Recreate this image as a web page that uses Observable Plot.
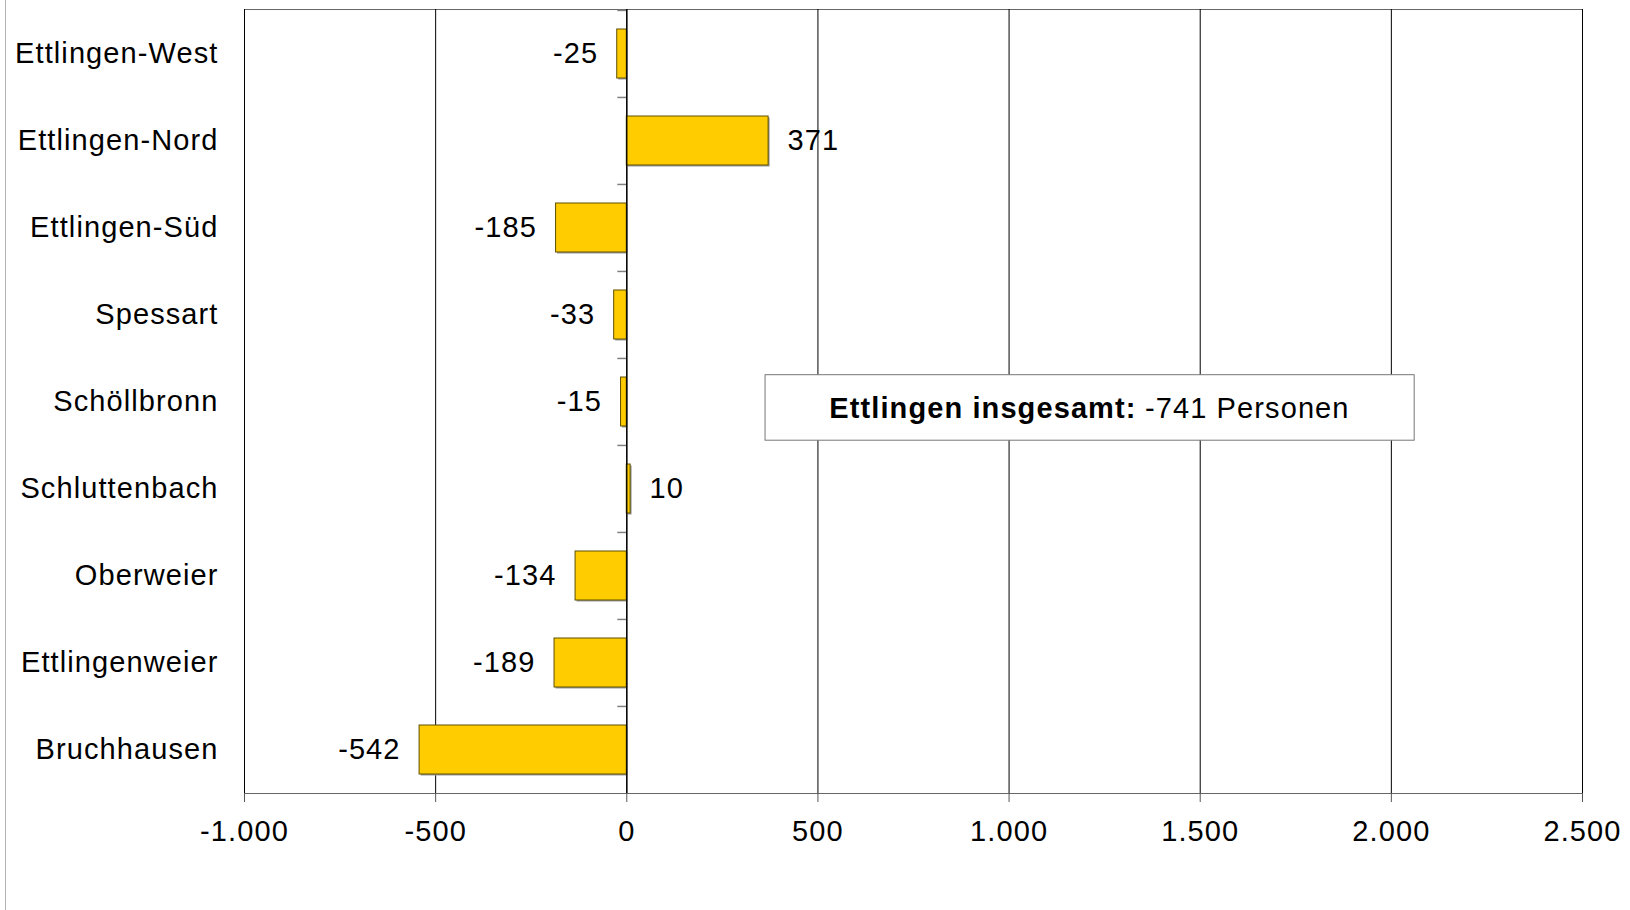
<!DOCTYPE html>
<html>
<head>
<meta charset="utf-8">
<script src="https://cdn.jsdelivr.net/npm/d3@7"></script>
<script src="https://cdn.jsdelivr.net/npm/@observablehq/plot@0.6"></script>
<style>
  body { margin: 0; background: #fff; }
  #chart { position: relative; width: 1630px; height: 910px; overflow: hidden; }
  #edge { position: absolute; left: 5px; top: 0; bottom: 0; border-left: 1px solid #b4b4b4; }
  #chart svg text { letter-spacing: 1.1px; }
</style>
</head>
<body>
<div id="chart"><div id="edge"></div></div>
<script>
// ---- data ----
const districts = ["Ettlingen-West", "Ettlingen-Nord", "Ettlingen-Süd", "Spessart", "Schöllbronn",
                   "Schluttenbach", "Oberweier", "Ettlingenweier", "Bruchhausen"];
const values = [-25, 371, -185, -33, -15, 10, -134, -189, -542];
const xTicks = [-1000, -500, 0, 500, 1000, 1500, 2000, 2500];
const xDomain = [-1000, 2500];
const totalLabel = "Ettlingen insgesamt:";
const totalValue = -741;
const totalUnit = "Personen";
const totalRow = "Schöllbronn";
const totalBox = [{x1: 363, x2: 2061, split: 1336}];

const data = districts.map((d, i) => ({district: d, value: values[i]}));
const fmt = d => (d < 0 ? "-" : "") + String(Math.abs(d)).replace(/\B(?=(\d{3})+(?!\d))/g, ".");

const H = 910, MT = 9, MB = 117;
const step = (H - MT - MB) / districts.length;

const plot = Plot.plot({
  width: 1630,
  height: H,
  marginLeft: 244,
  marginRight: 48,
  marginTop: MT,
  marginBottom: MB,
  style: {fontFamily: "'Liberation Sans', Arial, sans-serif", fontSize: "29px", background: "#fff", color: "#000", overflow: "visible"},
  x: {domain: xDomain, label: null},
  y: {domain: districts, paddingInner: 0.4375, paddingOuter: 0.21875, align: 0.5, label: null},
  marks: [
    Plot.frame({stroke: "#666"}),
    Plot.ruleX(xTicks, {stroke: "#000", strokeWidth: 1}),
    Plot.ruleY(districts, {y: d => d, x1: -23.5, x2: 0, dy: -step / 2, stroke: "#808080", strokeWidth: 1.5}),
    // bar shadows
    Plot.barX(data, {y: "district", x: "value", fill: "#9a9a9a", dx: 1.5, dy: 1.5}),
    Plot.barX(data, {y: "district", x: "value", fill: "#FFCC00", stroke: "#5e5000", strokeWidth: 1}),
    Plot.ruleX([0], {stroke: "#000", strokeWidth: 1.3}),
    Plot.text(data.filter(d => d.value < 0), {y: "district", x: "value", text: d => fmt(d.value), textAnchor: "end", dx: -19, fill: "#000"}),
    Plot.text(data.filter(d => d.value >= 0), {y: "district", x: "value", text: d => fmt(d.value), textAnchor: "start", dx: 19, fill: "#000"}),
    // total annotation box
    Plot.barX(totalBox, {x1: "x1", x2: "x2", y: () => totalRow, fill: "#fff", stroke: "#777", strokeWidth: 1, insetTop: -2.3, insetBottom: -14.2}),
    Plot.text(totalBox, {x: "split", y: () => totalRow, text: () => totalLabel, textAnchor: "end", fontWeight: "bold", dy: 6.5, dx: -1, fill: "#000"}),
    Plot.text(totalBox, {x: "split", y: () => totalRow, text: () => fmt(totalValue) + " " + totalUnit, textAnchor: "start", dy: 6.5, dx: 7.5, fill: "#000"}),
    Plot.axisX({ticks: xTicks, tickFormat: fmt, tickSize: 9, tickPadding: 18, stroke: "#555", fill: "#000"}),
    Plot.axisY({tickSize: 0, tickPadding: 26, fill: "#000"})
  ]
});
document.getElementById("chart").appendChild(plot);
</script>
</body>
</html>
